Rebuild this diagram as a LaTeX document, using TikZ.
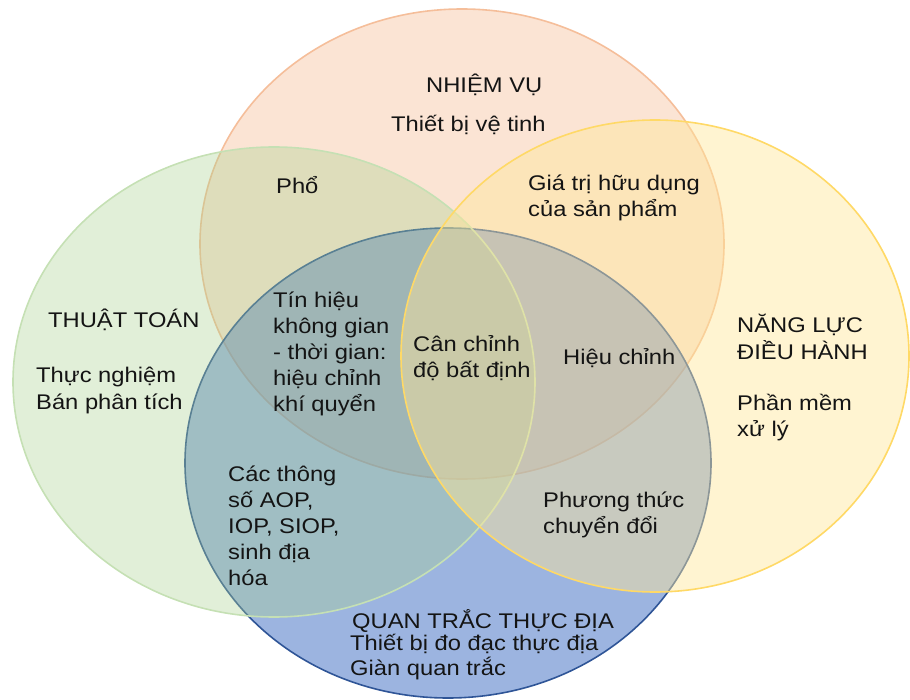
\documentclass[tikz,border=0pt]{standalone}
\usepackage{fontspec}
\setmainfont{Liberation Sans}[FakeStretch=1.12]
\newcommand{\mlines}[1]{\begin{tabular}[t]{@{}l@{}}#1\end{tabular}}
\definecolor{topfill}{HTML}{F4B183}
\definecolor{topline}{HTML}{F5BE9A}
\definecolor{bluefill}{HTML}{4472C4}
\definecolor{blueline}{HTML}{2F5597}
\definecolor{greenfill}{HTML}{A9D18E}
\definecolor{greenline}{HTML}{C5E0B4}
\definecolor{yellowfill}{HTML}{FFE699}
\definecolor{yellowline}{HTML}{FFD966}
\tikzset{
  vtext/.style={anchor=base west, inner sep=0pt, text=black!92,
    font=\fontsize{21.2}{26}\selectfont},
  venn/.style={line width=1.6pt}
}
\begin{document}
\begin{tikzpicture}[x=1pt,y=-1pt]
\useasboundingbox (0,0) rectangle (910,700);
% ellipses
\draw[venn, draw=topline, fill=topfill, fill opacity=0.35] (462,244) ellipse [x radius=262pt, y radius=235pt];
\draw[venn, draw=blueline, fill=bluefill, fill opacity=0.53] (448,463) ellipse [x radius=263pt, y radius=235pt];
\draw[venn, draw=greenline, fill=greenfill, fill opacity=0.35] (274,382) ellipse [x radius=261pt, y radius=235pt];
\draw[venn, draw=yellowline, fill=yellowfill, fill opacity=0.45] (655,356) ellipse [x radius=254pt, y radius=236pt];
% texts
\node[vtext] (nv) at (426,93) {NHIỆM VỤ};
\node[vtext] (tbvt) at (391,132) {Thiết bị vệ tinh};
\node[vtext] (pho) at (276,194) {Phổ};
\node[vtext] (gt) at (528,191) {\mlines{Giá trị hữu dụng\\của sản phẩm}};
\node[vtext] (tt) at (48,328) {THUẬT TOÁN};
\node[vtext] (tn) at (36,383) {\mlines{Thực nghiệm\\Bán phân tích}};
\node[vtext] (th) at (273,308) {\mlines{Tín hiệu\\không gian\\- thời gian:\\hiệu chỉnh\\khí quyển}};
\node[vtext] (cc) at (413,352) {\mlines{Cân chỉnh\\độ bất định}};
\node[vtext] (hc) at (563,365) {Hiệu chỉnh};
\node[vtext] (nl) at (737,333) {\mlines{NĂNG LỰC\\ĐIỀU HÀNH}};
\node[vtext] (pm) at (737,410) {\mlines{Phần mềm\\xử lý}};
\node[vtext] (cts) at (228,481) {\mlines{Các thông\\số AOP,\\IOP, SIOP,\\sinh địa\\hóa}};
\node[vtext] (pt) at (543,507) {\mlines{Phương thức\\chuyển đổi}};
\node[vtext] (qt) at (352,628) {QUAN TRẮC THỰC ĐỊA};
\node[vtext, font=\fontsize{21.2}{25}\selectfont] (tbd) at (350,650) {\mlines{Thiết bị đo đạc thực địa\\Giàn quan trắc}};
\end{tikzpicture}
\end{document}
